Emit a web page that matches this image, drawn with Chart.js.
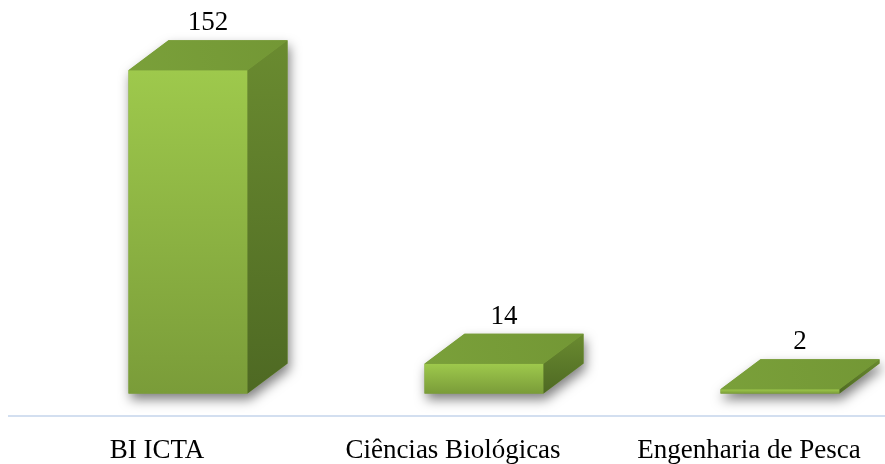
<!DOCTYPE html>
<html>
<head>
<meta charset="utf-8">
<script src="https://cdn.jsdelivr.net/npm/chart.js@4"></script>
<style>
  html, body { margin: 0; padding: 0; background: #fff; overflow: hidden; }
  #wrap { position: absolute; left: 0; top: 0; width: 900px; height: 494px; }
</style>
</head>
<body>
<div id="wrap"><canvas id="grafico" width="900" height="494"></canvas></div>
<script>
// Dados do gráfico
const categorias = ['BI ICTA', 'Ciências Biológicas', 'Engenharia de Pesca'];
const valores = [152, 14, 2];

// Aparência das caixas 3D
const PROF_X = 40;   // profundidade horizontal
const PROF_Y = 30;   // profundidade vertical
const DESLOC = 31;   // deslocamento da face frontal em relação ao rótulo
const FONTE = '"Liberation Serif", "Times New Roman", serif';

function desenharCaixa(ctx, esq, dir, topo, base) {
  const dx = PROF_X, dy = PROF_Y;

  // Sombra
  ctx.save();
  ctx.shadowColor = 'rgba(0,0,0,0.5)';
  ctx.shadowBlur = 12;
  ctx.shadowOffsetX = 2;
  ctx.shadowOffsetY = 6;
  ctx.fillStyle = '#7b9d3a';
  ctx.beginPath();
  ctx.moveTo(esq, base);
  ctx.lineTo(dir, base);
  ctx.lineTo(dir + dx, base - dy);
  ctx.lineTo(dir + dx, topo - dy);
  ctx.lineTo(esq + dx, topo - dy);
  ctx.lineTo(esq, topo);
  ctx.closePath();
  ctx.fill();
  ctx.restore();

  // Face frontal
  const gFrente = ctx.createLinearGradient(0, topo, 0, base);
  gFrente.addColorStop(0, '#9ec94c');
  gFrente.addColorStop(1, '#7a9c39');
  ctx.fillStyle = gFrente;
  ctx.fillRect(esq, topo, dir - esq, base - topo);

  // Face lateral
  const gLado = ctx.createLinearGradient(0, topo - dy, 0, base);
  gLado.addColorStop(0, '#6a8b30');
  gLado.addColorStop(1, '#4e6923');
  ctx.fillStyle = gLado;
  ctx.beginPath();
  ctx.moveTo(dir, topo);
  ctx.lineTo(dir + dx, topo - dy);
  ctx.lineTo(dir + dx, base - dy);
  ctx.lineTo(dir, base);
  ctx.closePath();
  ctx.fill();

  // Face superior
  const gTopo = ctx.createLinearGradient(esq, topo, dir + dx, topo - dy);
  gTopo.addColorStop(0, '#7aa03a');
  gTopo.addColorStop(1, '#739735');
  ctx.fillStyle = gTopo;
  ctx.beginPath();
  ctx.moveTo(esq, topo);
  ctx.lineTo(esq + dx, topo - dy);
  ctx.lineTo(dir + dx, topo - dy);
  ctx.lineTo(dir, topo);
  ctx.closePath();
  ctx.fill();
}

const caixas3d = {
  id: 'caixas3d',
  afterDatasetsDraw(chart) {
    const ctx = chart.ctx;
    const meta = chart.getDatasetMeta(0);
    meta.data.forEach((barra, i) => {
      const { x, y, base, width } = barra.getProps(['x', 'y', 'base', 'width'], true);
      const esq = x + DESLOC - width / 2;
      const dir = x + DESLOC + width / 2;
      desenharCaixa(ctx, esq, dir, y, base);

      ctx.save();
      ctx.fillStyle = '#000';
      ctx.font = '27px ' + FONTE;
      ctx.textAlign = 'center';
      ctx.textBaseline = 'alphabetic';
      ctx.fillText(String(valores[i]), x + DESLOC + PROF_X / 2, y - PROF_Y - 10);
      ctx.restore();
    });
  }
};

new Chart(document.getElementById('grafico').getContext('2d'), {
  type: 'bar',
  data: {
    labels: categorias,
    datasets: [{
      data: valores,
      backgroundColor: 'rgba(0,0,0,0)',
      borderWidth: 0,
      categoryPercentage: 1,
      barPercentage: 0.402
    }]
  },
  options: {
    responsive: false,
    animation: false,
    layout: { padding: { left: 9, right: 3, top: 0, bottom: 8 } },
    plugins: {
      legend: { display: false },
      tooltip: { enabled: false }
    },
    scales: {
      x: {
        grid: { display: false, drawTicks: false },
        border: { display: true, color: '#d3dff0', width: 2 },
        ticks: {
          color: '#000',
          padding: 19,
          maxRotation: 0,
          autoSkip: false,
          font: { family: FONTE, size: 27 }
        }
      },
      y: {
        display: false,
        min: -10.35,
        max: 185
      }
    }
  },
  plugins: [caixas3d]
});
</script>
</body>
</html>
